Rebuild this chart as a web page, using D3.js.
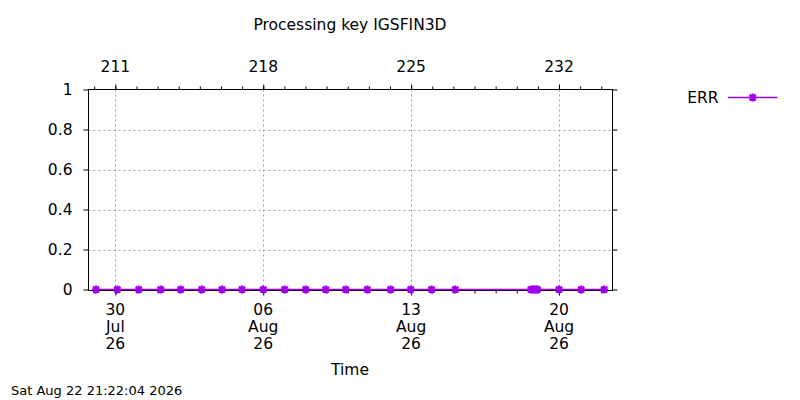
<!DOCTYPE html>
<html>
<head>
<meta charset="utf-8">
<script src="https://cdn.jsdelivr.net/npm/d3@7"></script>
<style>
  body { margin: 0; background: #fff; }
  svg { display: block; font-family: "DejaVu Sans", sans-serif; }
</style>
</head>
<body>
<svg id="chart" width="800" height="400"></svg>
<script>
// run times of the processing key (UTC) and the error flag
var runTimes = [
  "2026-07-29T02:05", "2026-07-30T02:15", "2026-07-31T02:35", "2026-08-01T03:35",
  "2026-08-02T02:15", "2026-08-03T02:10", "2026-08-04T01:10", "2026-08-04T23:55",
  "2026-08-06T00:05", "2026-08-07T00:25", "2026-08-08T00:15", "2026-08-08T23:00",
  "2026-08-09T21:40", "2026-08-10T22:15", "2026-08-12T00:45", "2026-08-12T23:30",
  "2026-08-13T23:15", "2026-08-15T02:10", "2026-08-18T16:05", "2026-08-18T18:00",
  "2026-08-18T20:00", "2026-08-18T21:50", "2026-08-18T23:30", "2026-08-20T00:00",
  "2026-08-21T01:10", "2026-08-22T03:20"
];
var errValues = [0,0,0,0,0,0,0,0,0,0,0,0,0,0,0,0,0,0,0,0,0,0,0,0,0,0];

// axis range and ticks
var timeRange = ["2026-07-28T17:30", "2026-08-22T12:45"];
var majorTicks = ["2026-07-30", "2026-08-06", "2026-08-13", "2026-08-20"];
var bottomLabels = [["30","Jul","26"], ["06","Aug","26"], ["13","Aug","26"], ["20","Aug","26"]];
var topLabels = ["211", "218", "225", "232"];
var yTicks = [0, 0.2, 0.4, 0.6, 0.8, 1];
var yLabels = ["0", "0.2", "0.4", "0.6", "0.8", "1"];

var titleText = "Processing key IGSFIN3D";
var xTitle = "Time";
var stampText = "Sat Aug 22 21:22:04 2026";
var seriesName = "ERR";

var parseT = d3.utcParse("%Y-%m-%dT%H:%M");
var parseD = d3.utcParse("%Y-%m-%d");
var cor = "#a000f0";

var svg = d3.select("#chart");
var pLeft = 88.5, pRight = 612.5, pTop = 89.5, pBottom = 290.5;

var xScale = d3.scaleUtc()
  .domain(timeRange.map(parseT))
  .range([pLeft, pRight]);
var yScale = d3.scaleLinear()
  .domain([0, 1])
  .range([pBottom - 1, pTop]);

var dataset = runTimes.map(function(t, i) {
  return { t: parseT(t), v: errValues[i] };
});

//grid lines
function desenhaGrade() {
  var g = svg.append("g")
    .attr("stroke", "#a0a0a0")
    .attr("stroke-width", 1)
    .attr("stroke-dasharray", "2,3");
  g.selectAll("line.gx")
    .data(majorTicks.map(parseD))
    .enter()
    .append("line")
    .attr("x1", function(d) { return Math.round(xScale(d)) + 0.5; })
    .attr("x2", function(d) { return Math.round(xScale(d)) + 0.5; })
    .attr("y1", pTop)
    .attr("y2", pBottom);
  g.selectAll("line.gy")
    .data(yTicks.slice(1, -1))
    .enter()
    .append("line")
    .attr("x1", pLeft)
    .attr("x2", pRight)
    .attr("y1", function(d) { return Math.round(yScale(d)) + 0.5; })
    .attr("y2", function(d) { return Math.round(yScale(d)) + 0.5; });
}

//axes: border box, outward ticks, labels
function desenhaEixos() {
  var days = d3.utcDay.range(xScale.domain()[0], xScale.domain()[1]);

  var bottomAxis = d3.axisBottom(xScale).tickValues(days).tickSize(3).tickFormat("");
  var bottomMajor = d3.axisBottom(xScale).tickValues(majorTicks.map(parseD)).tickSize(5).tickFormat("");
  var topAxis = d3.axisTop(xScale).tickValues(days).tickSize(3).tickFormat("");
  var topMajor = d3.axisTop(xScale).tickValues(majorTicks.map(parseD)).tickSize(5).tickFormat("");
  var leftAxis = d3.axisLeft(yScale).tickValues(yTicks).tickSize(5).tickFormat("");
  var rightAxis = d3.axisRight(yScale).tickValues(yTicks).tickSize(5).tickFormat("");

  [[bottomAxis, "0," + pBottom], [bottomMajor, "0," + pBottom],
   [topAxis, "0," + pTop], [topMajor, "0," + pTop],
   [leftAxis, pLeft + ",0"], [rightAxis, pRight + ",0"]].forEach(function(a) {
    var g = svg.append("g")
      .attr("transform", "translate(" + a[1] + ")")
      .call(a[0]);
    g.select(".domain").remove();
    g.selectAll("line").attr("stroke", "#000");
  });

  svg.append("rect")
    .attr("x", pLeft).attr("y", pTop)
    .attr("width", pRight - pLeft).attr("height", pBottom - pTop)
    .attr("fill", "none").attr("stroke", "#000").attr("stroke-width", 1);

  // bottom date labels, three lines each
  var bl = svg.append("g").attr("font-size", "15.5px").attr("text-anchor", "middle");
  bl.selectAll("text")
    .data(majorTicks)
    .enter()
    .append("text")
    .attr("x", function(d) { return xScale(parseD(d)); })
    .attr("y", 314.5)
    .each(function(d, i) {
      var t = d3.select(this);
      bottomLabels[i].forEach(function(s, k) {
        t.append("tspan")
          .attr("x", xScale(parseD(d)))
          .attr("y", 314.5 + k * 17)
          .text(s);
      });
    });

  // top day-of-year labels
  svg.append("g").attr("font-size", "15.5px").attr("text-anchor", "middle")
    .selectAll("text")
    .data(majorTicks)
    .enter()
    .append("text")
    .attr("x", function(d) { return xScale(parseD(d)); })
    .attr("y", 72)
    .text(function(d, i) { return topLabels[i]; });

  // y labels
  svg.append("g").attr("font-size", "15.5px").attr("text-anchor", "end")
    .selectAll("text")
    .data(yTicks)
    .enter()
    .append("text")
    .attr("x", 72.5)
    .attr("y", function(d) { return yScale(d) + 5.5; })
    .text(function(d, i) { return yLabels[i]; });
}

//asterisk marker like gnuplot pt 3
var marca = "M-4,0H4M0,-4V4M-3,-3L3,3M-3,3L3,-3";

function desenhaSerie() {
  var linha = d3.line()
    .x(function(d) { return xScale(d.t); })
    .y(function(d) { return yScale(d.v); });

  svg.append("path")
    .datum(dataset)
    .attr("d", linha)
    .attr("fill", "none")
    .attr("stroke", cor)
    .attr("stroke-width", 1.5);

  svg.selectAll("path.pt")
    .data(dataset)
    .enter()
    .append("path")
    .attr("class", "pt")
    .attr("d", marca)
    .attr("transform", function(d) {
      return "translate(" + xScale(d.t) + "," + yScale(d.v) + ")";
    })
    .attr("fill", "none")
    .attr("stroke", cor)
    .attr("stroke-width", 2.2);
}

//titles, legend and timestamp
function desenhaTextos() {
  svg.append("text")
    .attr("x", 350).attr("y", 30)
    .attr("text-anchor", "middle").attr("font-size", "15.5px")
    .text(titleText);

  svg.append("text")
    .attr("x", 350).attr("y", 375)
    .attr("text-anchor", "middle").attr("font-size", "15.5px")
    .text(xTitle);

  svg.append("text")
    .attr("x", 11).attr("y", 395)
    .attr("font-size", "13px")
    .text(stampText);

  var lg = svg.append("g");
  lg.append("text")
    .attr("x", 718.5).attr("y", 102.5)
    .attr("text-anchor", "end").attr("font-size", "15.5px")
    .text(seriesName);
  lg.append("line")
    .attr("x1", 728).attr("x2", 777.5)
    .attr("y1", 97.5).attr("y2", 97.5)
    .attr("stroke", cor).attr("stroke-width", 1.5);
  lg.append("path")
    .attr("d", marca)
    .attr("transform", "translate(752.7,97.5)")
    .attr("fill", "none").attr("stroke", cor).attr("stroke-width", 2.2);
}

desenhaGrade();
desenhaEixos();
desenhaSerie();
desenhaTextos();
</script>
</body>
</html>
